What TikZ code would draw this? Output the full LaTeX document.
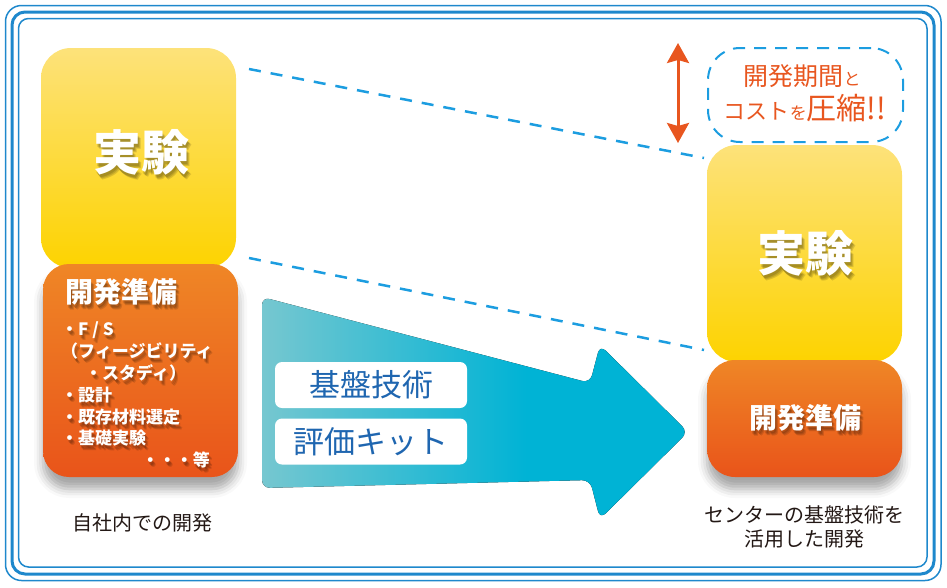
\documentclass[tikz,border=0pt]{standalone}
\usepackage{fontspec}
\setmainfont{Noto Sans CJK JP}
\usetikzlibrary{shadows.blur,arrows.meta}
\definecolor{bordblue}{HTML}{1E88CC}
\definecolor{dashblue}{HTML}{1C9DE0}
\definecolor{ytop}{HTML}{FDE27A}
\definecolor{ybot}{HTML}{FDD300}
\definecolor{otop}{HTML}{EF8626}
\definecolor{obot}{HTML}{E9541A}
\definecolor{redorange}{HTML}{E8561F}
\definecolor{arl}{HTML}{76C7D0}
\definecolor{arr}{HTML}{00B3D5}
\definecolor{lblue}{HTML}{1F66B0}
\definecolor{captxt}{HTML}{231815}
\pgfdeclarehorizontalshading{arrowsh}{100bp}{color(0bp)=(arl); color(25bp)=(arl); color(56bp)=(arr); color(100bp)=(arr)}
\newcommand{\shadowtext}[5]{%
  \foreach \dx/\dy in {1/3,3/5,2/4}{\node[anchor=#4, text=black, opacity=0.13, font=\fontsize{#3}{#3}\selectfont\bfseries, xshift=\dx pt, yshift=-\dy pt, inner sep=0pt] at (#2) {#5};}
  \node[anchor=#4, text=white, font=\fontsize{#3}{#3}\selectfont\bfseries, inner sep=0pt] (#1) at (#2) {#5};
}
\begin{document}
\begin{tikzpicture}[x=1pt,y=-1pt,
  ybox/.style={rounded corners=30pt, top color=ytop, bottom color=ybot, minimum width=195pt, inner sep=0pt},
  obox/.style={rounded corners=26pt, top color=otop, bottom color=obot, minimum width=195pt, inner sep=0pt,
     blur shadow={shadow xshift=0pt, shadow yshift=-12pt, shadow blur radius=9pt, shadow opacity=35}},
  conn/.style={draw=dashblue, line width=2.5pt, dash pattern=on 12pt off 10pt},
  dbox/.style={draw=dashblue, line width=2pt, dash pattern=on 12pt off 9pt, rounded corners=32pt, minimum width=195pt, minimum height=94pt},
  lbox/.style={fill=white, rounded corners=7pt, minimum width=192pt, minimum height=46pt, text=lblue, font=\fontsize{31}{31}\selectfont, inner sep=0pt},
  caption/.style={text=captxt, font=\fontsize{20}{24}\selectfont, inner sep=0pt, align=center},
  dbl/.style={draw=redorange, line width=3pt, {Stealth[length=20pt,width=22pt,inset=3pt]}-{Stealth[length=20pt,width=22pt,inset=3pt]}}
]
\useasboundingbox (0,0) rectangle (947,587);
% frame
\draw[bordblue, line width=1.5pt, rounded corners=16pt] (5.5,5.5) rectangle (941,580.5);
\draw[bordblue, line width=3pt, rounded corners=13pt] (12,12) rectangle (934,574);
\draw[bordblue, line width=1.5pt, rounded corners=10pt] (18.5,18.5) rectangle (927,567);
% dashed connectors
\coordinate (c1s) at (249,69); \coordinate (c1e) at (704,158);
\coordinate (c2s) at (249,258); \coordinate (c2e) at (704,350);
\draw[conn] (c1s) -- (c1e);
\draw[conn] (c2s) -- (c2e);
% big arrow
\fill[shading=arrowsh, rounded corners=8pt] (262,297) -- (590,383) -- (600,345) -- (688,432) -- (600,519) -- (590,480) -- (262,488) -- cycle;
\node[lbox] (kiban) at (371,385) {基盤技術};
\node[lbox] (kit) at (371,441.5) {評価キット};
% left boxes
\node[ybox, minimum height=220pt] (ly) at (138.5,158) {};
\node[obox, minimum height=213pt] (lo) at (140.5,370.5) {};
\shadowtext{lyt}{141,152}{48}{center}{実験}
\shadowtext{lot}{65,292}{28}{west}{開発準備}
\shadowtext{l1}{61,330}{17}{west}{・F / S}
\shadowtext{l2}{61,351}{17}{west}{（フィージビリティ}
\shadowtext{l3}{85,373}{17}{west}{・スタディ）}
\shadowtext{l4}{61,395}{17}{west}{・設計}
\shadowtext{l5}{61,417}{17}{west}{・既存材料選定}
\shadowtext{l6}{61,438}{17}{west}{・基礎実験}
\shadowtext{l7}{210,460}{17}{east}{・・・等}
\node[caption] (lcap) at (142,523) {自社内での開発};
% right boxes
\node[ybox, minimum height=217pt] (ry) at (804.5,253.5) {};
\node[obox, rounded corners=28pt, minimum height=117pt] (ro) at (804.5,418.5) {};
\shadowtext{ryt}{805,253}{48}{center}{実験}
\shadowtext{rot}{805.5,418}{28}{center}{開発準備}
\node[caption] (rcap) at (804,527) {センターの基盤技術を\\活用した開発};
% dashed callout
\node[dbox] (db) at (805.5,95) {};
\node[text=redorange, anchor=base, inner sep=0pt] (t1) at (802,85) {\fontsize{25}{25}\selectfont 開発期間\fontsize{17}{17}\selectfont と};
\node[text=redorange, anchor=base, inner sep=0pt] (t2) at (805,119) {\fontsize{22}{22}\selectfont コスト\fontsize{17}{17}\selectfont を\fontsize{30}{30}\selectfont 圧縮!!};
% double arrow
\coordinate (da1) at (678,43); \coordinate (da2) at (678,143);
\draw[dbl] (da1) -- (da2);
\end{tikzpicture}
\end{document}
